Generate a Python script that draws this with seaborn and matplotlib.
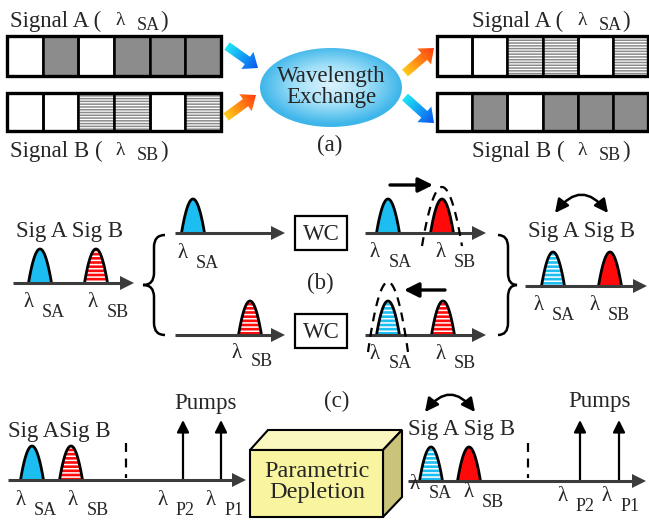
import numpy as np
import matplotlib
matplotlib.use("Agg")
import matplotlib.pyplot as plt
import seaborn as sns
from matplotlib.patches import Rectangle, Ellipse, FancyArrow, FancyArrowPatch, Polygon, PathPatch
from matplotlib.path import Path
from matplotlib.colors import LinearSegmentedColormap

# --- what the sketch shows ---
bits_a = [0, 1, 0, 1, 1, 1]      # Signal A data before exchange (gray marks)
bits_b = [0, 0, 1, 1, 0, 1]      # Signal B data before exchange (striped marks)
sig_names = ["A", "B"]
sig_subs = ["SA", "SB"]
pump_subs = ["P2", "P1"]
panel_tags = ["(a)", "(b)", "(c)"]
exchange_text = "Wavelength\nExchange"
converter_text = "WC"
depletion_text = "Parametric\nDepletion"
pumps_text = "Pumps"

# pulse looks at each stage (signal A, signal B)
stage_in = ["blue", "red_h"]
stage_up = ["blue", "red"]
stage_low = ["blue_h", "red_h"]
stage_out = ["blue_h", "red"]

sns.set_theme(style="white")
plt.rcParams["font.family"] = "serif"
plt.rcParams["font.serif"] = ["Liberation Serif"]
plt.rcParams["hatch.linewidth"] = 1.1

SERIF = "Liberation Serif"
BLUE = "#1cbdf0"
RED = "#ff0a0a"
GRAY = "#8c8c8c"
AXC = "#3c3c3c"
FS = 16.5

fig = plt.figure(figsize=(6.49, 5.23), dpi=100)
ax = fig.add_axes([0, 0, 1, 1])


def txt(x, y, s, fs=FS, **kw):
    kw.setdefault("ha", "left")
    kw.setdefault("va", "baseline")
    ax.text(x, y, s, fontsize=fs, family=SERIF, **kw)


def bar(x0, y0, w, h, bits, style):
    cw = w / len(bits)
    for i, b in enumerate(bits):
        x = x0 + i * cw
        if b and style == "gray":
            ax.add_patch(Rectangle((x, y0), cw, h, fc=GRAY, ec="none"))
        elif b:
            ax.add_patch(Rectangle((x, y0), cw, h, fc="white", ec="#8a8a8a", lw=0, hatch="------"))
        ax.add_patch(Rectangle((x, y0), cw, h, fc="none", ec="black", lw=1.8))
    ax.add_patch(Rectangle((x0, y0), w, h, fc="none", ec="black", lw=2.4))


def pulse(xc, yb, kind, w=23, h=34):
    t = np.linspace(-1, 1, 61)
    px = xc + t * w / 2
    py = yb - h * (1 - t ** 2)
    face = BLUE if kind.startswith("blue") else RED
    ax.fill(px, py, fc=face, ec="none", zorder=3)
    if kind.endswith("_h"):
        ax.fill(px, py, fc="none", ec="white", lw=0, hatch="----", zorder=3)
    sns.lineplot(x=px, y=py, color="black", linewidth=2.0, sort=False,
                 estimator=None, ax=ax, zorder=4)


def axis_arrow(x0, x1, y):
    ax.plot([x0, x1 - 10], [y, y], color=AXC, lw=2.2, solid_capstyle="butt", zorder=5)
    ax.add_patch(Polygon([(x1, y), (x1 - 14, y - 7), (x1 - 14, y + 7)], closed=True,
                         fc=AXC, ec="none", zorder=5))


def lam(x, y, sub, dy=10):
    txt(x, y, "λ", fs=15, zorder=6)
    txt(x + 19, y + dy, sub, fs=13, zorder=6)


def signal_title(x, y, name, sub):
    txt(x, y, f"Signal {name} (")
    txt(x + 105, y - 2, "λ", fs=14)
    txt(x + 127, y + 3, sub, fs=13)
    txt(x + 150, y, ")")


def grad_arrow(x0, y0, x1, y1, c0, c1):
    arr = FancyArrow(x0, y0, x1 - x0, y1 - y0, width=9, head_width=21, head_length=13,
                     length_includes_head=True, fc="none", ec="none")
    ax.add_patch(arr)
    xs = np.linspace(min(x0, x1) - 12, max(x0, x1) + 12, 80)
    ys = np.linspace(min(y0, y1) - 12, max(y0, y1) + 12, 80)
    X, Y = np.meshgrid(xs, ys)
    dx, dy = x1 - x0, y1 - y0
    T = np.clip(((X - x0) * dx + (Y - y0) * dy) / (dx * dx + dy * dy), 0, 1)
    cmap = LinearSegmentedColormap.from_list("g", [c0, c1])
    im = ax.imshow(T, cmap=cmap, extent=(xs[0], xs[-1], ys[-1], ys[0]), origin="upper",
                   aspect="auto", zorder=3, interpolation="bilinear")
    im.set_clip_path(arr)


def dashed_arch(xc, hw, top, bottom):
    t = np.linspace(-1, 1, 61)
    ax.plot(xc + t * hw, bottom - (bottom - top) * (1 - t ** 2), color="black",
            lw=1.6, ls=(0, (4, 3)), zorder=6)


def brace(xe, xm, xt, y0, y1):
    ym = (y0 + y1) / 2
    verts = [(xe, y0), (xm, y0), (xm, y0 + 12), (xm, ym - 12), (xm, ym), (xt, ym),
             (xm, ym), (xm, ym + 12), (xm, y1 - 12), (xm, y1), (xe, y1)]
    codes = [Path.MOVETO, Path.CURVE3, Path.CURVE3, Path.LINETO, Path.CURVE3, Path.CURVE3,
             Path.CURVE3, Path.CURVE3, Path.LINETO, Path.CURVE3, Path.CURVE3]
    ax.add_patch(PathPatch(Path(verts, codes), fc="none", ec="black", lw=1.8))


def swap_arrow(x0, x1, y):
    ax.add_patch(FancyArrowPatch((x0, y), (x1, y), connectionstyle="arc3,rad=-0.65",
                                 arrowstyle="<|-|>", mutation_scale=20, lw=1.8,
                                 color="black", shrinkA=0, shrinkB=0))


def shift_arrow(x0, x1, y):
    ax.add_patch(FancyArrowPatch((x0, y), (x1, y), arrowstyle="-|>", mutation_scale=22,
                                 lw=2.4, color="black", shrinkA=0, shrinkB=0))


def pump(x, y0, y1):
    ax.add_patch(FancyArrowPatch((x, y0), (x, y1), arrowstyle="-|>", mutation_scale=18,
                                 lw=1.6, color="black", shrinkA=0, shrinkB=0, zorder=4))


def wc_box(x0, y0):
    ax.add_patch(Rectangle((x0, y0), 52, 34, fc="white", ec="black", lw=1.6))
    txt(x0 + 26, y0 + 18, converter_text, ha="center", va="center")


# ===== (a) =====
signal_title(10, 27, sig_names[0], sig_subs[0])
signal_title(10, 157, sig_names[1], sig_subs[1])
signal_title(472, 27, sig_names[0], sig_subs[0])
signal_title(472, 157, sig_names[1], sig_subs[1])
bar(7, 36, 214, 40, bits_a, "gray")
bar(7, 93, 214, 38, bits_b, "hatch")
bar(437, 36, 211, 40, bits_b, "hatch")
bar(437, 93, 211, 38, bits_a, "gray")

CY0, CY1 = "#1de6f6", "#0a55f0"
OR0, OR1 = "#ffcc1a", "#ff3c10"
grad_arrow(227, 46, 258, 68, CY0, CY1)
grad_arrow(226, 117, 256, 95, OR0, OR1)
grad_arrow(405, 73, 434, 48, OR0, OR1)
grad_arrow(405, 97, 434, 123, CY0, CY1)

ell = Ellipse((331, 87.5), 142, 79, fc="none", ec="none")
ax.add_patch(ell)
xs = np.linspace(258, 404, 120)
ys = np.linspace(46, 129, 80)
X, Y = np.meshgrid(xs, ys)
R = np.clip(np.sqrt(((X - 331) / 71) ** 2 + ((Y - 85) / 39.5) ** 2), 0, 1)
ecmap = LinearSegmentedColormap.from_list("e", ["#dcf3fd", "#a2e0f8", "#3fb6ea"])
im = ax.imshow(R, cmap=ecmap, extent=(xs[0], xs[-1], ys[-1], ys[0]), origin="upper",
               aspect="auto", interpolation="bilinear", zorder=2)
im.set_clip_path(ell)
txt(331, 87, exchange_text, ha="center", va="center", linespacing=1.05, zorder=4)
txt(330, 145, panel_tags[0], ha="center", va="center")

# ===== (b) =====
axis_arrow(13, 134, 283)
pulse(40, 283, stage_in[0])
pulse(96, 283, stage_in[1])
txt(70, 232, f"Sig {sig_names[0]} Sig {sig_names[1]}", ha="center", va="center")
lam(23, 307, sig_subs[0])
lam(88, 307, sig_subs[1])

brace(165, 154, 143, 235, 335)

axis_arrow(175, 285, 233)
pulse(193, 233, stage_in[0])
lam(177, 258, sig_subs[0])
wc_box(295, 216)
txt(320, 283, panel_tags[1], ha="center", va="center")
axis_arrow(175, 285, 335)
pulse(250, 335, stage_in[1])
lam(232, 358, sig_subs[1], dy=8)
wc_box(295, 314)

axis_arrow(365, 486, 233)
pulse(388, 233, stage_up[0])
pulse(442, 233, stage_up[1])
dashed_arch(442, 20, 187, 246)
shift_arrow(390, 433, 185)
lam(370, 257, sig_subs[0])
lam(435, 257, sig_subs[1])

axis_arrow(365, 486, 335)
pulse(388, 335, stage_low[0])
pulse(443, 335, stage_low[1])
dashed_arch(388, 20, 282, 352)
shift_arrow(445, 404, 290)
lam(370, 359, sig_subs[0], dy=9)
lam(435, 359, sig_subs[1], dy=9)

brace(498, 508, 517, 235, 335)

axis_arrow(525, 647, 286)
pulse(553, 286, stage_out[0])
pulse(610, 286, stage_out[1])
txt(582, 232, f"Sig {sig_names[0]} Sig {sig_names[1]}", ha="center", va="center")
swap_arrow(555, 608, 213)
lam(533, 310, sig_subs[0])
lam(589, 310, sig_subs[1])

# ===== (c) =====
txt(337, 401, panel_tags[2], ha="center", va="center")

axis_arrow(8, 246, 480)
pulse(32, 480, stage_in[0])
pulse(71, 480, stage_in[1])
ax.plot([126, 126], [443, 478], color="black", lw=1.6, ls=(0, (4, 3)))
pump(183, 480, 420)
pump(221, 480, 420)
txt(206, 403, pumps_text, ha="center", va="center")
txt(8, 431, f"Sig {sig_names[0]}Sig {sig_names[1]}", va="center")
lam(15, 505, sig_subs[0])
lam(68, 505, sig_subs[1])
lam(157, 505, pump_subs[0])
lam(206, 505, pump_subs[1])

front = [(250, 450), (383, 450), (383, 517), (250, 517)]
top = [(250, 450), (268, 430), (402, 430), (383, 450)]
side = [(383, 450), (402, 430), (402, 497), (383, 517)]
ax.add_patch(Polygon(top, closed=True, fc="#fbf8bf", ec="black", lw=1.5, joinstyle="miter"))
ax.add_patch(Polygon(side, closed=True, fc="#c9c47a", ec="black", lw=1.5, joinstyle="miter"))
ax.add_patch(Polygon(front, closed=True, fc="#f8f4a0", ec="black", lw=1.5, joinstyle="miter"))
txt(317, 482, depletion_text, fs=17.5, ha="center", va="center", linespacing=1.05)

axis_arrow(408, 646, 481)
pulse(431, 481, stage_out[0])
pulse(469, 481, stage_out[1])
ax.plot([528, 528], [443, 478], color="black", lw=1.6, ls=(0, (4, 3)))
pump(580, 481, 420)
pump(619, 481, 420)
txt(600, 402, pumps_text, ha="center", va="center")
txt(408, 430, f"Sig {sig_names[0]} Sig {sig_names[1]}", va="center")
swap_arrow(425, 475, 412)
lam(410, 489, sig_subs[0], dy=9)
lam(463, 497, sig_subs[1])
lam(557, 501, pump_subs[0])
lam(602, 501, pump_subs[1])

ax.set_xlim(0, 649)
ax.set_ylim(523, 0)
ax.axis("off")
fig.savefig("out.png", dpi=100)
